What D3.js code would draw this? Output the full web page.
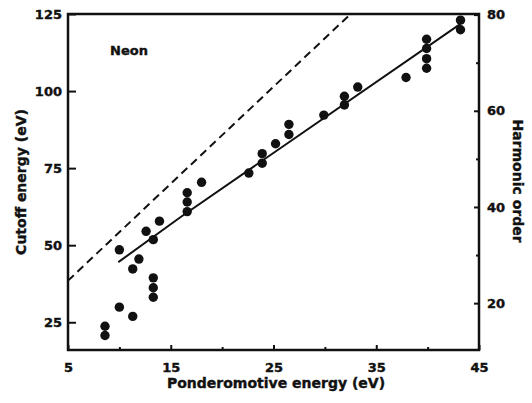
<!DOCTYPE html>
<html>
<head>
<meta charset="utf-8">
<script src="https://cdn.jsdelivr.net/npm/d3@7"></script>
<style>
  body { margin: 0; background: #fff; }
  svg text { font-family: "DejaVu Sans", sans-serif; font-weight: bold; fill: #111; stroke: #111; stroke-width: 0.4px; }
</style>
</head>
<body>
<div id="chart"></div>
<script>
// measured cutoff points (Up in eV, cutoff in eV)
var ponderomotive = [8.6, 8.6, 10.0, 11.3, 10.0, 11.3, 11.9, 12.6, 13.3, 13.9, 13.3, 13.3, 13.3,
  16.6, 16.6, 16.6, 18.0, 22.6, 23.9, 23.9, 25.2, 26.5, 26.5, 29.9, 31.9, 31.9, 33.2, 37.9,
  39.9, 39.9, 39.9, 39.9, 43.2, 43.2];
var cutoff = [23.7, 20.7, 29.9, 26.9, 48.5, 42.3, 45.5, 54.5, 51.8, 57.8, 39.4, 36.2, 33.1,
  67.0, 64.0, 60.9, 70.4, 73.4, 76.6, 79.7, 82.9, 85.9, 89.2, 92.2, 95.5, 98.3, 101.3, 104.4,
  116.8, 113.8, 110.5, 107.4, 123.0, 119.9];

// solid fit line and dashed Ip + 3.17 Up line
var fitUp = [9.9, 15.9, 43.2];
var fitCutoff = [44.5, 59.0, 121.8];
var theoryUp = [5, 32.5];
var theoryCutoff = [38.5, 125];

var xTicks = [5, 15, 25, 35, 45];
var xMinorTicks = [10, 20, 30, 40];
var yTicks = [25, 50, 75, 100, 125];
var orderTicks = [20, 40, 60, 80];
var orderMinorTicks = [30, 50, 70];
var photonEnergy = 1.56;

var width = 532, height = 403;
var margin = {top: 14, right: 53, bottom: 53, left: 68};
var innerW = width - margin.left - margin.right,
    innerH = height - margin.top - margin.bottom;

var svg = d3.select("#chart").append("svg")
    .attr("width", width)
    .attr("height", height);

var g = svg.append("g")
    .attr("transform", "translate(" + margin.left + "," + margin.top + ")");

var x = d3.scaleLinear().domain([5, 45]).range([0, innerW]);
var y = d3.scaleLinear().domain([16, 125]).range([innerH, 0]);
var yOrder = d3.scaleLinear().domain([16 / photonEnergy, 125 / photonEnergy]).range([innerH, 0]);

function styleAxis(sel) {
  sel.select(".domain").remove();
  sel.selectAll("line").attr("stroke", "#111").attr("stroke-width", 2);
  sel.selectAll("text").style("font-size", "13px");
}

// axes, ticks pointing inside
g.append("g")
    .call(d3.axisLeft(y).tickValues(yTicks).tickSizeInner(-8).tickSizeOuter(0).tickPadding(6))
    .call(styleAxis);

g.append("g")
    .attr("transform", "translate(0," + innerH + ")")
    .call(d3.axisBottom(x).tickValues(xTicks).tickSizeInner(-5).tickSizeOuter(0).tickPadding(13))
    .call(styleAxis);
g.append("g")
    .attr("transform", "translate(0," + innerH + ")")
    .call(d3.axisBottom(x).tickValues(xMinorTicks).tickSizeInner(-3).tickSizeOuter(0).tickFormat(""))
    .call(styleAxis);

g.append("g")
    .attr("transform", "translate(" + innerW + ",0)")
    .call(d3.axisRight(yOrder).tickValues(orderTicks).tickSizeInner(-5).tickSizeOuter(0).tickPadding(8))
    .call(styleAxis);
g.append("g")
    .attr("transform", "translate(" + innerW + ",0)")
    .call(d3.axisRight(yOrder).tickValues(orderMinorTicks).tickSizeInner(-3).tickSizeOuter(0).tickFormat(""))
    .call(styleAxis);

// frame
g.append("rect")
    .attr("width", innerW)
    .attr("height", innerH)
    .attr("fill", "none")
    .attr("stroke", "#111")
    .attr("stroke-width", 2.5);

var line = d3.line()
    .x(function(d) { return x(d[0]); })
    .y(function(d) { return y(d[1]); });

g.append("path")
    .datum(d3.zip(theoryUp, theoryCutoff))
    .attr("d", line)
    .attr("fill", "none")
    .attr("stroke", "#111")
    .attr("stroke-width", 2)
    .attr("stroke-dasharray", "8,5");

g.append("path")
    .datum(d3.zip(fitUp, fitCutoff))
    .attr("d", line)
    .attr("fill", "none")
    .attr("stroke", "#111")
    .attr("stroke-width", 2);

g.selectAll("circle")
    .data(d3.zip(ponderomotive, cutoff))
  .enter().append("circle")
    .attr("cx", function(d) { return x(d[0]); })
    .attr("cy", function(d) { return y(d[1]); })
    .attr("r", 4.7)
    .attr("fill", "#111");

// labels
svg.append("text")
    .attr("x", 110)
    .attr("y", 55)
    .style("font-size", "13px")
    .text("Neon");

svg.append("text")
    .attr("x", 276)
    .attr("y", 388)
    .attr("text-anchor", "middle")
    .style("font-size", "14px")
    .text("Ponderomotive energy (eV)");

svg.append("text")
    .attr("transform", "translate(26,182)rotate(-90)")
    .attr("text-anchor", "middle")
    .style("font-size", "14px")
    .text("Cutoff energy (eV)");

svg.append("text")
    .attr("transform", "translate(513,181)rotate(90)")
    .attr("text-anchor", "middle")
    .style("font-size", "14px")
    .text("Harmonic order");
</script>
</body>
</html>
